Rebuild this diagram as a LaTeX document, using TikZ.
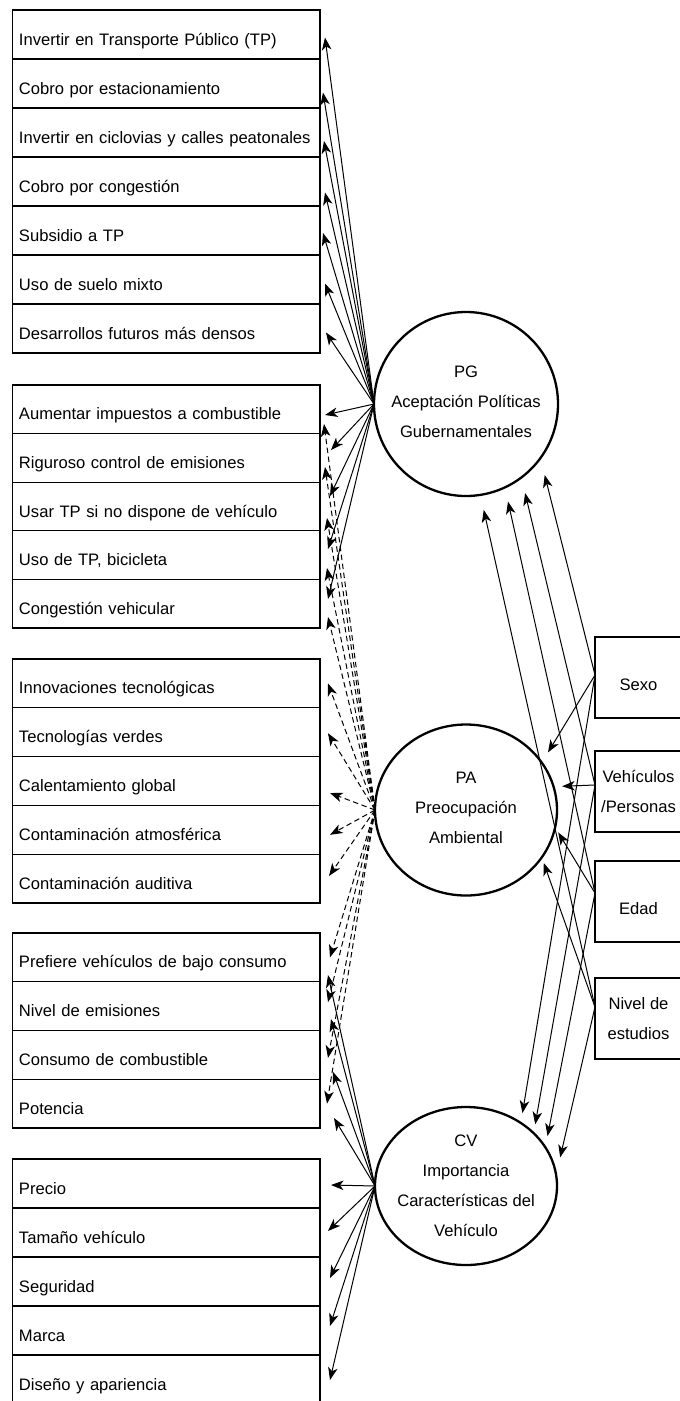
\documentclass[tikz,border=0pt]{standalone}
\usepackage{fontspec}
\setmainfont{Liberation Sans}
\usetikzlibrary{arrows.meta,shapes.geometric}
\begin{document}
\begin{tikzpicture}[x=1pt,y=-1pt,font=\fontsize{16.6pt}{30pt}\selectfont,
  rowbox/.style={draw,line width=1.2pt,outer sep=0pt,inner xsep=6.5pt,inner ysep=0pt,
    minimum width=307.5pt,text width=294.5pt,align=left,text height=21pt,text depth=0pt},
  rbox/.style={draw,line width=1.2pt,outer sep=0pt,inner sep=0pt,minimum width=87pt,
    minimum height=81pt,align=center},
  latent/.style={draw,line width=2.3pt,outer sep=0pt,inner sep=0pt},
  ctext/.style={align=center,inner sep=0pt},
  arr/.style={line width=1pt,-{Stealth[length=12.5pt,width=9.5pt,inset=3.5pt]}},
  dsh/.style={arr,dash pattern=on 5.5pt off 3.5pt}]
\useasboundingbox (0,0) rectangle (680,1401);
% ---------- left boxes ----------
\begin{scope}[every node/.append style={rowbox,minimum height=49pt}]
\node (a1) at (166.25,34.5) {Invertir en Transporte Público (TP)};
\node (a2) at (166.25,83.5) {Cobro por estacionamiento};
\node (a3) at (166.25,132.5) {Invertir en ciclovias y calles peatonales};
\node (a4) at (166.25,181.5) {Cobro por congestión};
\node (a5) at (166.25,230.5) {Subsidio a TP};
\node (a6) at (166.25,279.5) {Uso de suelo mixto};
\node (a7) at (166.25,328.5) {Desarrollos futuros más densos};
\end{scope}
\begin{scope}[every node/.append style={rowbox,minimum height=48.6pt}]
\node (b1) at (166.25,409.3) {Aumentar impuestos a combustible};
\node (b2) at (166.25,457.9) {Riguroso control de emisiones};
\node (b3) at (166.25,506.5) {Usar TP si no dispone de vehículo};
\node (b4) at (166.25,555.1) {Uso de TP, bicicleta};
\node (b5) at (166.25,603.7) {Congestión vehicular};
\end{scope}
\begin{scope}[every node/.append style={rowbox,minimum height=48.8pt}]
\node (c1) at (166.25,683.4) {Innovaciones tecnológicas};
\node (c2) at (166.25,732.2) {Tecnologías verdes};
\node (c3) at (166.25,781.0) {Calentamiento global};
\node (c4) at (166.25,829.8) {Contaminación atmosférica};
\node (c5) at (166.25,878.6) {Contaminación auditiva};
\end{scope}
\begin{scope}[every node/.append style={rowbox,minimum height=48.75pt}]
\node (d1) at (166.25,957.4) {Prefiere vehículos de bajo consumo};
\node (d2) at (166.25,1006.1) {Nivel de emisiones};
\node (d3) at (166.25,1054.9) {Consumo de combustible};
\node (d4) at (166.25,1103.6) {Potencia};
\end{scope}
\begin{scope}[every node/.append style={rowbox,minimum height=49pt}]
\node (e1) at (166.25,1183.5) {Precio};
\node (e2) at (166.25,1232.5) {Tamaño vehículo};
\node (e3) at (166.25,1281.5) {Seguridad};
\node (e4) at (166.25,1330.5) {Marca};
\node (e5) at (166.25,1379.5) {Diseño y apariencia};
\end{scope}
% ---------- latent variables ----------
\node[latent,circle,minimum size=184pt] (pg) at (466,404) {};
\node[latent,ellipse,minimum width=182pt,minimum height=171pt] (pa) at (466,810) {};
\node[latent,ellipse,minimum width=182pt,minimum height=158pt] (cv) at (466,1186) {};
\node[ctext] (pgt) at ([yshift=2pt]pg.center) {PG\\Aceptación Políticas\\Gubernamentales};
\node[ctext] (pat) at ([yshift=2pt]pa.center) {PA\\Preocupación\\Ambiental};
\node[ctext] (cvt) at (cv.center) {CV\\Importancia\\Características del\\Vehículo};
% ---------- right boxes ----------
\node[rbox,text height=25pt,text depth=0pt] (sexo) at (638.5,677.5) {Sexo};
\node[rbox] (veh) at (638.5,791.5) {Vehículos\\/Personas};
\node[rbox,text height=25pt,text depth=0pt] (edad) at (638.5,901.5) {Edad};
\node[rbox] (niv) at (638.5,1018.5) {Nivel de\\estudios};
\coordinate (sx) at ([yshift=2.5pt]sexo.west);
\coordinate (vx) at ([yshift=6.5pt]veh.west);
\coordinate (ex) at ([yshift=8.5pt]edad.west);
\coordinate (nx) at ([yshift=11.5pt]niv.west);
% ---------- PG -> indicators ----------
\draw[arr] (pg.west) -- ([xshift=5pt,yshift=-3pt]a1.east);
\draw[arr] (pg.west) -- ([xshift=3pt,yshift=-9pt]a2.east);
\draw[arr] (pg.west) -- ([xshift=4pt,yshift=-8.5pt]a3.east);
\draw[arr] (pg.west) -- ([xshift=5pt,yshift=-11pt]a4.east);
\draw[arr] (pg.west) -- ([xshift=3pt,yshift=-2.5pt]a5.east);
\draw[arr] (pg.west) -- ([xshift=5pt,yshift=-4pt]a6.east);
\draw[arr] (pg.west) -- ([xshift=6pt,yshift=-4pt]a7.east);
\draw[arr] (pg.west) -- ([xshift=5pt,yshift=-5.7pt]b1.east);
\draw[arr] (pg.west) -- ([xshift=11pt,yshift=7.9pt]b2.east);
\draw[arr] (pg.west) -- ([xshift=10pt,yshift=10.5pt]b3.east);
\draw[arr] (pg.west) -- ([xshift=8pt,yshift=6.1pt]b4.east);
\draw[arr] (pg.west) -- ([xshift=8pt,yshift=4.7pt]b5.east);
% ---------- PA -> indicators (dashed) ----------
\draw[dsh] (pa.west) -- ([xshift=4pt,yshift=-14.7pt]b1.east);
\draw[dsh] (pa.west) -- ([xshift=5pt,yshift=-9.1pt]b2.east);
\draw[dsh] (pa.west) -- ([xshift=7pt,yshift=-11.5pt]b3.east);
\draw[dsh] (pa.west) -- ([xshift=7pt,yshift=-12.9pt]b4.east);
\draw[dsh] (pa.west) -- ([xshift=8pt,yshift=-13.3pt]b5.east);
\draw[dsh] (pa.west) -- ([xshift=8pt,yshift=0pt]c1.east);
\draw[dsh] (pa.west) -- ([xshift=8pt,yshift=-1pt]c2.east);
\draw[dsh] (pa.west) -- ([xshift=10pt,yshift=-12pt]c3.east);
\draw[dsh] (pa.west) -- ([xshift=10pt,yshift=-5pt]c4.east);
\draw[dsh] (pa.west) -- ([xshift=9pt,yshift=2.6pt]c5.east);
\draw[dsh] (pa.west) -- ([xshift=10pt,yshift=0pt]d1.east);
\draw[dsh] (pa.west) -- ([xshift=8pt,yshift=4pt]d2.east);
\draw[dsh] (pa.west) -- ([xshift=8pt,yshift=-3pt]d3.east);
\draw[dsh] (pa.west) -- ([xshift=7pt,yshift=0pt]d4.east);
% ---------- CV -> indicators ----------
\draw[arr] (cv.west) -- ([xshift=8pt,yshift=-17.6pt]d1.east);
\draw[arr] (cv.west) -- ([xshift=11pt,yshift=-13pt]d2.east);
\draw[arr] (cv.west) -- ([xshift=13pt,yshift=-17pt]d3.east);
\draw[arr] (cv.west) -- ([xshift=14pt,yshift=-14.4pt]d4.east);
\draw[arr] (cv.west) -- ([xshift=11pt,yshift=-1.5pt]e1.east);
\draw[arr] (cv.west) -- ([xshift=8pt,yshift=1.5pt]e2.east);
\draw[arr] (cv.west) -- ([xshift=10pt,yshift=3.5pt]e3.east);
\draw[arr] (cv.west) -- ([xshift=10pt,yshift=4.5pt]e4.east);
\draw[arr] (cv.west) -- ([xshift=10pt,yshift=-0.5pt]e5.east);
% ---------- covariates -> latent ----------
\draw[arr,shorten >=17.5pt] (sx) -- (pg.-36.7);
\draw[arr,shorten >=16pt] (vx) -- (pg.-53);
\draw[arr,shorten >=14.5pt] (ex) -- (pg.-65.8);
\draw[arr,shorten >=15.4pt] (nx) -- (pg.-81.5);
\draw[arr,shorten >=12pt] (sx) -- (pa.32.1);
\draw[arr,shorten >=8.7pt] (vx) -- (pa.15.2);
\draw[arr,shorten >=6pt] (ex) -- (pa.-11.4);
\draw[arr,shorten >=6pt] (nx) -- (pa.-32.9);
\draw[arr,shorten >=10pt] (sx) -- (cv.49.3);
\draw[arr,shorten >=9pt] (vx) -- (cv.38.2);
\draw[arr,shorten >=11.5pt] (ex) -- (cv.26.8);
\draw[arr,shorten >=18pt] (nx) -- (cv.7.9);
\end{tikzpicture}
\end{document}
